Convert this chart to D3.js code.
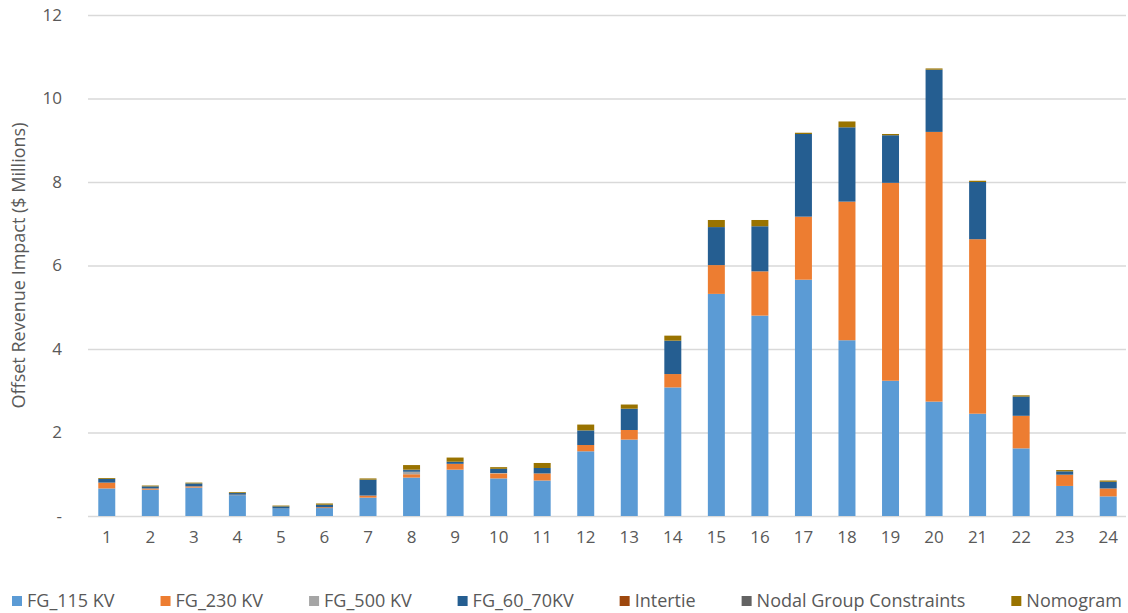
<!DOCTYPE html>
<html>
<head>
<meta charset="utf-8">
<script src="https://cdn.jsdelivr.net/npm/d3@7"></script>
<style>
  body { margin: 0; background: #fff; }
  text { font-family: "Open Sans", "Liberation Sans", sans-serif; fill: #595959; }
</style>
</head>
<body>
<div class="chart"></div>
<script>
// hour of day
const hours = d3.range(1, 25).map(String);

// $ millions per constraint group
const fg115 = [0.66, 0.63, 0.68, 0.50, 0.18, 0.19, 0.44, 0.92, 1.11, 0.90, 0.85, 1.55, 1.83, 3.08, 5.32, 4.80, 5.66, 4.21, 3.24, 2.74, 2.45, 1.62, 0.72, 0.47];
const fg230 = [0.14, 0.03, 0.03, 0.01, 0.00, 0.02, 0.05, 0.08, 0.14, 0.12, 0.17, 0.15, 0.23, 0.32, 0.69, 1.06, 1.51, 3.32, 4.74, 6.46, 4.18, 0.78, 0.27, 0.19];
const fg500 = [0, 0, 0, 0, 0, 0, 0, 0.06, 0, 0.01, 0, 0, 0, 0, 0, 0, 0, 0, 0, 0, 0, 0, 0, 0];
const fg6070 = [0.09, 0.05, 0.07, 0.04, 0.05, 0.06, 0.38, 0.04, 0.05, 0.10, 0.13, 0.35, 0.51, 0.80, 0.91, 1.08, 1.98, 1.78, 1.14, 1.49, 1.37, 0.46, 0.08, 0.16];
const intertie = [0, 0, 0, 0, 0, 0, 0, 0, 0, 0, 0, 0, 0, 0, 0, 0, 0, 0, 0, 0, 0, 0, 0, 0];
const nodal = [0, 0, 0, 0, 0, 0, 0, 0.01, 0, 0, 0, 0, 0, 0, 0, 0, 0, 0, 0, 0, 0, 0, 0, 0];
const nomogram = [0.02, 0.02, 0.02, 0.02, 0.02, 0.03, 0.03, 0.11, 0.10, 0.04, 0.12, 0.14, 0.10, 0.12, 0.17, 0.15, 0.03, 0.14, 0.03, 0.03, 0.03, 0.03, 0.03, 0.03];

const seriesNames = ['FG_115 KV', 'FG_230 KV', 'FG_500 KV', 'FG_60_70KV', 'Intertie', 'Nodal Group Constraints', 'Nomogram'];
const seriesValues = [fg115, fg230, fg500, fg6070, intertie, nodal, nomogram];
const yTicks = [0, 2, 4, 6, 8, 10, 12];

const colors = ['#5B9BD5', '#ED7D31', '#A5A5A5', '#255E91', '#9E480E', '#636363', '#997300'];

const W = 1128, H = 613;
const plot = {left: 85, right: 1130, top: 15, bottom: 516};

// rows for d3.stack
const table = hours.map((h, i) => {
	const row = {hour: h};
	seriesNames.forEach((s, j) => { row[s] = seriesValues[j][i]; });
	return row;
});

const stacked = d3.stack().keys(seriesNames)(table);

const xScale = d3.scaleBand()
	.domain(hours)
	.range([plot.left, plot.right])
	.paddingInner(0.61)
	.paddingOuter(0.305);

const yScale = d3.scaleLinear()
	.domain([0, 12])
	.range([plot.bottom, plot.top]);

const colorScale = d3.scaleOrdinal()
	.domain(seriesNames)
	.range(colors);

const svg = d3.select('.chart').append('svg')
	.attr('width', W)
	.attr('height', H);

// gridlines
svg.append('g')
	.selectAll('line')
	.data(yTicks)
	.enter()
	.append('line')
	.attr('x1', 88)
	.attr('x2', 1126)
	.attr('y1', d => yScale(d) + 0.5)
	.attr('y2', d => yScale(d) + 0.5)
	.attr('stroke', '#D9D9D9')
	.attr('stroke-width', 1.3);

// bars
svg.append('g')
	.selectAll('g')
	.data(stacked)
	.enter()
	.append('g')
	.attr('fill', d => colorScale(d.key))
	.selectAll('rect')
	.data(d => d)
	.enter()
	.append('rect')
	.attr('x', d => xScale(d.data.hour))
	.attr('width', xScale.bandwidth())
	.attr('y', d => yScale(d[1]))
	.attr('height', d => Math.max(0, yScale(d[0]) - yScale(d[1])));

// y axis
const yAxis = d3.axisLeft(yScale)
	.tickValues(yTicks)
	.tickSize(0)
	.tickPadding(0)
	.tickFormat(d => d === 0 ? '-' : d);

svg.append('g')
	.attr('class', 'axis y-axis')
	.attr('transform', 'translate(62,0)')
	.call(yAxis)
	.call(g => g.select('.domain').remove())
	.selectAll('text')
	.style('font-size', '17px')
	.attr('fill', '#595959');

// x axis
const xAxis = d3.axisBottom(xScale)
	.tickSize(0)
	.tickPadding(0);

svg.append('g')
	.attr('class', 'axis x-axis')
	.attr('transform', 'translate(0,531)')
	.call(xAxis)
	.call(g => g.select('.domain').remove())
	.selectAll('text')
	.style('font-size', '17px')
	.attr('fill', '#595959');

// y title
svg.append('text')
	.attr('transform', `translate(25, ${(plot.top + plot.bottom) / 2}) rotate(-90)`)
	.attr('text-anchor', 'middle')
	.style('font-size', '18px')
	.text('Offset Revenue Impact ($ Millions)');

// legend, laid out from measured text widths
const legend = svg.append('g').attr('class', 'legend');
const items = legend.selectAll('g')
	.data(seriesNames)
	.enter()
	.append('g');

items.append('rect')
	.attr('width', 10)
	.attr('height', 10)
	.attr('y', -11)
	.attr('fill', d => colorScale(d));

items.append('text')
	.attr('x', 15)
	.style('font-size', '18px')
	.text(d => d);

const widths = [];
items.each(function() { widths.push(15 + this.querySelector('text').getComputedTextLength()); });
const total = d3.sum(widths);
const gap = (1122 - 12 - total) / (seriesNames.length - 1);
let cursor = 12;
items.attr('transform', (d, i) => {
	const x = cursor;
	cursor += widths[i] + gap;
	return `translate(${x}, 607)`;
});
</script>
</body>
</html>
